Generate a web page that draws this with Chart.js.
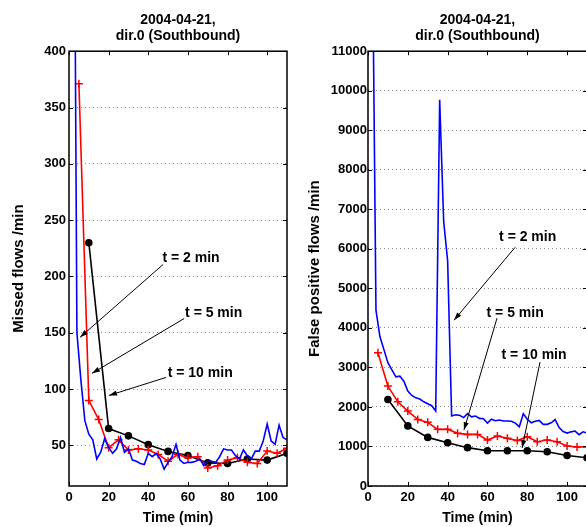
<!DOCTYPE html>
<html><head><meta charset="utf-8">
<script src="https://cdn.jsdelivr.net/npm/chart.js@4"></script>
<style>
html,body{margin:0;padding:0;background:#fff;overflow:hidden;width:586px;height:527px;}
#c1{position:absolute;left:0;top:0;}
#c2{position:absolute;left:293px;top:0;}
</style></head><body>
<canvas id="c1" width="293" height="527"></canvas>
<canvas id="c2" width="300" height="527"></canvas>
<script>
// ---------- data ----------
const titleLines = ['2004-04-21,', 'dir.0 (Southbound)'];
const xTitle = 'Time (min)';
const missedTitle = 'Missed flows /min';
const fpTitle = 'False positive flows /min';
const xTicks = [0, 20, 40, 60, 80, 100];
const missedYTicks = [50, 100, 150, 200, 250, 300, 350, 400];
const fpYTicks = [0, 1000, 2000, 3000, 4000, 5000, 6000, 7000, 8000, 9000, 10000, 11000];

const t2x = [2,4,6,8,10,12,14,16,18,20,22,24,26,28,30,32,34,36,38,40,42,44,46,48,50,52,54,56,58,60,62,64,66,68,70,72,74,76,78,80,82,84,86,88,90,92,94,96,98,100,102,104,106,108,110];
const t5x = [5,10,15,20,25,30,35,40,45,50,55,60,65,70,75,80,85,90,95,100,105,110];
const t10x = [10,20,30,40,50,60,70,80,90,100,110];

const missed2 = [775,150,108,72,60,55,38,44,56,48,43,47,57,44,47,37,36,34,33,43,40,43,38,29,35,40,51,37,34,35,35,36,38,32,36,36,35,40,47,46,46,41,38,46,41,38,45,45,54,69,54,51,68,57,55];
const missed5 = [371,90,73,48,55,46,47,46,42,36,42,39,40,30,32,37,39,35,34,45,43,47.5];
const missed10 = [230,65,58.5,50.7,44.7,41,34.5,34,38,37,43];

const fp2 = [15000,4450,3775,3450,3120,2940,2760,2780,2650,2400,2290,2230,2200,2130,2080,2030,1900,9770,6700,5700,1770,1800,1790,1730,1830,1750,1770,1710,1700,1590,1690,1650,1670,1645,1645,1640,1590,1500,1830,1690,1600,1640,1660,1560,1560,1600,1680,1480,1380,1340,1370,1390,1300,1370,1340];
const fp5 = [3370,2527,2130,1895,1685,1610,1433,1433,1332,1306,1306,1163,1264,1205,1150,1247,1120,1163,1120,1010,985,990];
const fp10 = [2190,1520,1230,1095,970,893,893,893,868,770,716];

// ---------- helpers ----------
const FONT = "'Liberation Sans', Arial, Helvetica, sans-serif";
const pts = (xs, ys) => xs.map((x, i) => ({x: x, y: ys[i]}));

function arrow(ctx, x1, y1, x2, y2) {
  ctx.beginPath(); ctx.moveTo(x1, y1); ctx.lineTo(x2, y2); ctx.stroke();
  const a = Math.atan2(y2 - y1, x2 - x1), L = 8, W = 2.6;
  ctx.beginPath();
  ctx.moveTo(x2, y2);
  ctx.lineTo(x2 - L*Math.cos(a) + W*Math.sin(a), y2 - L*Math.sin(a) - W*Math.cos(a));
  ctx.lineTo(x2 - L*Math.cos(a) - W*Math.sin(a), y2 - L*Math.sin(a) + W*Math.cos(a));
  ctx.closePath(); ctx.fill();
}

const matlabBox = {
  id: 'matlabBox',
  afterDraw(chart, args, opts) {
    const {ctx, chartArea: a, scales: {x, y}} = chart;
    ctx.save();
    ctx.strokeStyle = '#000'; ctx.fillStyle = '#000';
    ctx.lineWidth = 1.5;
    ctx.strokeRect(a.left, a.top, a.right - a.left, a.bottom - a.top);
    ctx.lineWidth = 1;
    const tl = 4;
    ctx.beginPath();
    opts.xt.forEach(v => { const p = Math.round(x.getPixelForValue(v)) + 0.5;
      ctx.moveTo(p, a.bottom); ctx.lineTo(p, a.bottom - tl);
      ctx.moveTo(p, a.top); ctx.lineTo(p, a.top + tl); });
    opts.yt.forEach(v => { const p = Math.round(y.getPixelForValue(v)) + 0.5;
      ctx.moveTo(a.left, p); ctx.lineTo(a.left + tl, p);
      ctx.moveTo(a.right, p); ctx.lineTo(a.right - tl, p); });
    ctx.stroke();
    // annotations
    ctx.font = 'bold 14px ' + FONT;
    ctx.textAlign = 'center'; ctx.textBaseline = 'middle';
    opts.notes.forEach(n => {
      ctx.fillText(n.text, x.getPixelForValue(n.tx), y.getPixelForValue(n.ty));
      arrow(ctx, x.getPixelForValue(n.x1), y.getPixelForValue(n.y1),
                 x.getPixelForValue(n.x2), y.getPixelForValue(n.y2));
    });
    ctx.restore();
  }
};

function makeChart(id, d2, d5, d10, yMin, yMax, yTicks, yTitle, yWidth, yPad, yTitlePad, notes) {
  const tickFont = {family: FONT, size: 13, weight: 'bold'};
  return new Chart(document.getElementById(id), {
    type: 'line',
    data: {datasets: [
      {data: pts(t2x, d2), borderColor: '#0000ff', borderWidth: 1.6, pointRadius: 0, tension: 0},
      {data: pts(t5x, d5), borderColor: '#ff0000', borderWidth: 1.6, pointStyle: 'cross', pointRadius: 4,
       pointBorderWidth: 1.5, pointBorderColor: '#ff0000', tension: 0},
      {data: pts(t10x, d10), borderColor: '#000000', borderWidth: 1.6, pointStyle: 'circle', pointRadius: 3,
       pointBackgroundColor: '#000', pointBorderColor: '#000', tension: 0}
    ]},
    options: {
      responsive: false, animation: false, devicePixelRatio: 1,
      layout: {padding: {left: 0, right: 6, top: 0, bottom: 0}},
      plugins: {
        legend: {display: false}, tooltip: {enabled: false},
        title: {display: true, text: titleLines, color: '#000', fullSize: false,
                font: {family: FONT, size: 14, weight: 'bold', lineHeight: 1.15},
                padding: {top: 12, bottom: 7}},
        matlabBox: {xt: xTicks, yt: yTicks, notes: notes}
      },
      scales: {
        x: {type: 'linear', min: 0, max: 110,
            afterBuildTicks: s => { s.ticks = xTicks.map(v => ({value: v})); },
            afterFit: s => { s.height = 41; },
            grid: {display: false, drawTicks: false}, border: {display: false},
            ticks: {font: tickFont, color: '#000', padding: 4, autoSkip: false, maxRotation: 0,
                    callback: v => String(v)},
            title: {display: true, text: xTitle, color: '#000', font: {family: FONT, size: 14, weight: 'bold'},
                    padding: {top: 0, bottom: 0}}},
        y: {type: 'linear', min: yMin, max: yMax,
            afterBuildTicks: s => { s.ticks = yTicks.map(v => ({value: v})); },
            afterFit: s => { s.width = yWidth; },
            grid: {display: true, drawTicks: false, color: '#8a8a8a', lineWidth: 1},
            border: {display: false, dash: [1, 3]},
            ticks: {font: tickFont, color: '#000', padding: yPad, autoSkip: false,
                    callback: v => String(v)},
            title: {display: true, text: yTitle, color: '#000', font: {family: FONT, size: 15, weight: 'bold'},
                    padding: {top: yTitlePad, bottom: yTitlePad}}}
      }
    },
    plugins: [matlabBox]
  });
}

const notesMissed = [
  {text: 't = 2 min', tx: 61.6, ty: 216, x1: 47.5, y1: 210.7, x2: 5.6, y2: 146},
  {text: 't = 5 min', tx: 73, ty: 167.4, x1: 58.1, y1: 162.7, x2: 11.6, y2: 114},
  {text: 't = 10 min', tx: 66.2, ty: 114.2, x1: 49, y1: 110.4, x2: 20.2, y2: 94.4}
];
const notesFp = [
  {text: 't = 2 min', tx: 80.2, ty: 6293, x1: 73.9, y1: 6040, x2: 43.2, y2: 4195},
  {text: 't = 5 min', tx: 73.9, ty: 4372, x1: 64.8, y1: 4246, x2: 48.2, y2: 1415},
  {text: 't = 10 min', tx: 83.4, ty: 3323, x1: 86.4, y1: 3134, x2: 77.4, y2: 960}
];

makeChart('c1', missed2, missed5, missed10, 14, 400, missedYTicks, missedTitle, 69, 3, 10, notesMissed);
makeChart('c2', fp2, fp5, fp10, 0, 11000, fpYTicks, fpTitle, 75, 1, 13, notesFp);
</script>
</body></html>
